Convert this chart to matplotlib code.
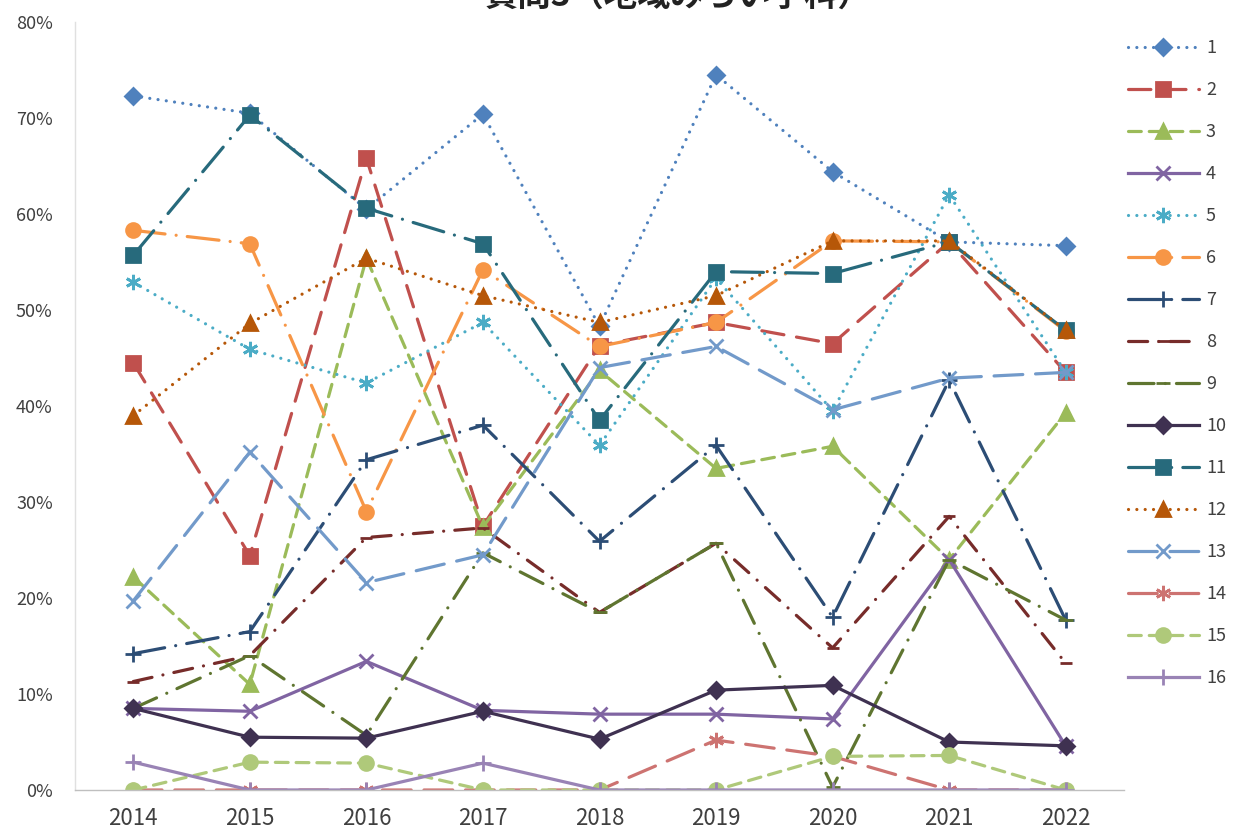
import numpy as np
import matplotlib
matplotlib.use('Agg')
import matplotlib.pyplot as plt
from matplotlib.ticker import FuncFormatter

plt.rcParams['font.family'] = ['Noto Sans CJK JP', 'DejaVu Sans']

title = '質問3（地域みらい学科）'
years = ['2014', '2015', '2016', '2017', '2018', '2019', '2020', '2021', '2022']

# percentages, one list per series
s1 = [72.3, 70.5, 60.5, 70.4, 48.3, 74.5, 64.4, 57.1, 56.7]
s2 = [44.5, 24.4, 65.8, 27.5, 46.3, 48.7, 46.5, 57.1, 43.5]
s3 = [22.2, 11.0, 55.4, 27.4, 43.7, 33.5, 35.8, 24.0, 39.3]
s4 = [8.5, 8.2, 13.4, 8.3, 7.9, 7.9, 7.4, 24.0, 4.6]
s5 = [52.9, 45.9, 42.4, 48.7, 35.9, 53.3, 39.5, 62.0, 43.5]
s6 = [58.3, 56.9, 29.0, 54.2, 46.2, 48.7, 57.2, 57.1, 47.8]
s7 = [14.2, 16.5, 34.4, 38.0, 25.9, 35.9, 18.0, 42.7, 17.7]
s8 = [11.3, 14.0, 26.3, 27.3, 18.5, 25.7, 14.8, 28.5, 13.2]
s9 = [8.5, 14.0, 5.7, 24.7, 18.5, 25.7, 0.3, 24.0, 17.7]
s10 = [8.5, 5.5, 5.4, 8.2, 5.3, 10.4, 10.9, 5.0, 4.6]
s11 = [55.7, 70.3, 60.6, 56.9, 38.5, 54.0, 53.8, 57.1, 47.9]
s12 = [39.0, 48.6, 55.4, 51.5, 48.7, 51.5, 57.2, 57.2, 47.9]
s13 = [19.7, 35.2, 21.6, 24.5, 44.0, 46.2, 39.6, 42.9, 43.5]
s14 = [0, 0, 0, 0, 0, 5.2, 3.5, 0, 0]
s15 = [0, 2.9, 2.8, 0, 0, 0, 3.5, 3.6, 0]
s16 = [2.9, 0, 0, 2.8, 0, 0, 0, 0, 0]

series = [s1, s2, s3, s4, s5, s6, s7, s8, s9, s10, s11, s12, s13, s14, s15, s16]
labels = [str(i) for i in range(1, 17)]

colors = ['#4F81BD', '#C0504D', '#9BBB59', '#8064A2', '#4BACC6', '#F79646',
          '#2C4D75', '#772C2A', '#5F7530', '#3F3151', '#276A7C', '#B65708',
          '#729ACA', '#CD7371', '#AFC97A', '#9983B5']
dot = (0, (0.01, 2.6))
styles = [dot, (0, (7, 4)), (0, (4, 2.5)), '-', dot, (0, (10, 3.5, 0.01, 3.5)),
          (0, (10, 3.5, 0.01, 3.5)), (0, (6, 3.5, 0.01, 3.5)), (0, (8, 3.5, 0.01, 3.5)), '-',
          (0, (10, 3.5, 0.01, 3.5)), dot, (0, (9, 4)), (0, (9, 4)), (0, (4, 2.5)), '-']
markers = ['D', 's', '^', 'x', (6, 2, 0), 'o', '+', '_', '_',
           'D', 's', '^', 'x', (6, 2, 0), 'o', '+']
msizes = [8, 10, 10, 10, 11, 10, 11, 9, 10, 8, 10, 10, 10, 11, 10, 11]

fig = plt.figure(figsize=(12.33, 8.36), dpi=100)
ax = fig.add_axes([75 / 1233, 46 / 836, 1049 / 1233, 768 / 836])

x = np.arange(len(years))
for i, vals in enumerate(series):
    ax.plot(x, np.array(vals) / 100, linestyle=styles[i], color=colors[i], lw=2.3,
            dash_capstyle='round', marker=markers[i], markersize=msizes[i],
            markeredgewidth=2, markerfacecolor=colors[i], markeredgecolor=colors[i],
            label=labels[i])

ax.set_xlim(-0.5, 8.5)
ax.set_ylim(0, 0.8)
ax.set_xticks(x)
ax.set_xticklabels(years)
ax.set_yticks(np.arange(0, 0.81, 0.1))
ax.yaxis.set_major_formatter(FuncFormatter(lambda v, p: '%d%%' % round(v * 100)))
ax.tick_params(axis='y', length=0, labelsize=13, colors='#404040', pad=16)
ax.tick_params(axis='x', length=0, labelsize=16, colors='#404040', pad=12)
for sp in ['top', 'right']:
    ax.spines[sp].set_visible(False)
ax.spines['bottom'].set_color('#BFBFBF')
ax.spines['bottom'].set_linewidth(1)
ax.spines['left'].set_color('#E0E0E0')
ax.spines['left'].set_linewidth(1)

fig.legend(loc='upper left', bbox_to_anchor=(1112 / 1233, 1 - 23 / 836), frameon=False,
           fontsize=13, handlelength=3.9, labelspacing=1.33, handletextpad=0.4,
           labelcolor='#404040')

fig.text(678 / 1233, 1.004, title, ha='center', va='center', fontsize=24,
         fontweight='bold', color='#222222')

fig.savefig('out.png', dpi=100)
